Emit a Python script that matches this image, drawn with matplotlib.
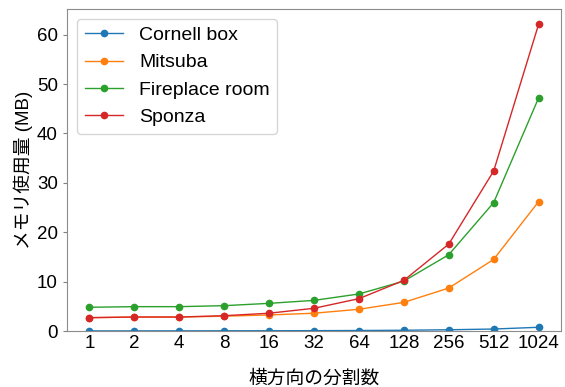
import matplotlib
matplotlib.use("Agg")
import matplotlib.pyplot as plt

plt.rcParams['font.family'] = ['Liberation Sans', 'Noto Sans CJK JP', 'DejaVu Sans']

divisions = ["1", "2", "4", "8", "16", "32", "64", "128", "256", "512", "1024"]

cornell = [0.02, 0.02, 0.03, 0.04, 0.05, 0.07, 0.1, 0.15, 0.25, 0.4, 0.75]
mitsuba = [2.7, 2.83, 2.83, 3.0, 3.25, 3.6, 4.4, 5.8, 8.7, 14.5, 26.2]
fireplace = [4.8, 4.93, 4.93, 5.13, 5.6, 6.2, 7.5, 10.1, 15.45, 26.0, 47.2]
sponza = [2.7, 2.83, 2.83, 3.1, 3.6, 4.6, 6.55, 10.25, 17.6, 32.4, 62.1]

series = [
    ("Cornell box", cornell, "#1f77b4"),
    ("Mitsuba", mitsuba, "#ff7f0e"),
    ("Fireplace room", fireplace, "#2ca02c"),
    ("Sponza", sponza, "#d62728"),
]

fig = plt.figure(figsize=(5.65, 3.87), dpi=100)
ax = fig.add_axes([0.1186, 0.1447, 0.8744, 0.832])

for name, vals, col in series:
    ax.plot(divisions, vals, marker="o", markersize=4.5, linewidth=1, color=col, label=name)

ax.set_ylim(bottom=0)
ax.set_xlabel("横方向の分割数", fontsize=13.5, labelpad=13)
ax.set_ylabel("メモリ使用量 (MB)", fontsize=13.5, labelpad=3)
ax.tick_params(labelsize=13.5, color="#808080")
ax.tick_params(axis="y", length=3)
ax.tick_params(axis="x", length=0, pad=3)
for s in ax.spines.values():
    s.set_color("#8c8c8c")

leg = ax.legend(loc="upper left", fontsize=14, frameon=True, handlelength=2.0)
leg.get_frame().set_edgecolor("#cccccc")

fig.savefig("out.png", dpi=100)
